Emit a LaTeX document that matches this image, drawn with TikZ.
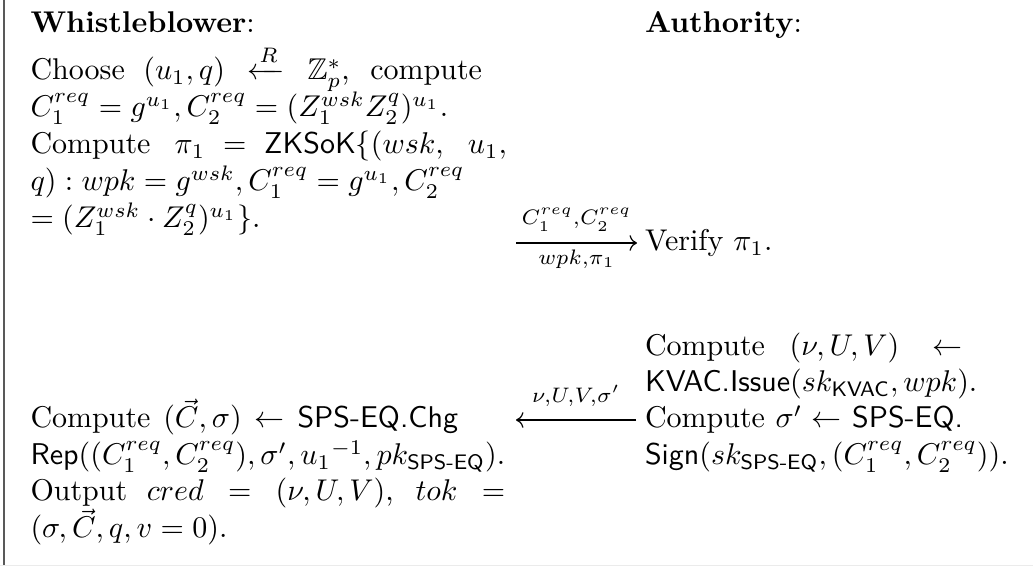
\documentclass[tikz,border=0pt]{standalone}
\usepackage{amsmath,amssymb}
\usetikzlibrary{arrows.meta}
% stretch the interword and math glue of one line to a given width
\newcommand{\spreadline}[2]{\makebox[#1][s]{#2}}
\begin{document}
\begin{tikzpicture}[x=0.3333pt,y=-0.3333pt,
  txt/.style={anchor=base west,inner sep=0pt,outer sep=0pt},
  msg/.style={line width=0.4pt,-{Computer Modern Rightarrow}},
  lab/.style={anchor=base,inner sep=0pt,outer sep=0pt},
  frameleft/.style={draw=black!65,line width=0.45pt},
  framebottom/.style={draw=black!8,line width=0.6pt}]
\useasboundingbox (0,0) rectangle (1033,567);

% table rules
\path[frameleft] (4,0) -- (4,565.5);
\path[framebottom] (0,565.5) -- (1033,565.5);

% headers
\node[txt] (wb) at (30.5,33) {\textbf{Whistleblower}:};
\node[txt] (au) at (645,33) {\textbf{Authority}:};

% whistleblower: commitment request
\node[txt] (l1) at (30.5,80) {\spreadline{150.5pt}{Choose $(u_1,q)\xleftarrow{R}\mathbb{Z}_p^*$, compute}};
\node[txt] (l2) at (30.5,117) {$C_1^{req}=g^{u_1},C_2^{req}=(Z_1^{wsk}Z_2^q)^{u_1}$.};
\node[txt] (l3) at (30.5,154) {\spreadline{158.8pt}{\thickmuskip=5mu plus 2mu
  Compute $\pi_1=\mathsf{ZKSoK}\{(wsk,$ $u_1,$}};
\node[txt] (l4) at (30.5,191) {$q):wpk=g^{wsk},C_1^{req}=g^{u_1},C_2^{req}$};
\node[txt] (l5) at (30.5,228) {$=(Z_1^{wsk}\cdot Z_2^q)^{u_1}\}$.};

% authority: verification
\node[txt] (vf) at (645,251) {Verify $\pi_1$.};

% first message
\coordinate (m1a) at (516,243);
\coordinate (m1b) at (637,243);
\draw[msg] (m1a) -- (m1b)
  node[lab,midway,yshift=6pt] (m1up) {$\scriptstyle C_1^{req},C_2^{req}$}
  node[lab,midway,yshift=-7.3pt] (m1dn) {$\scriptstyle wpk,\pi_1$};

% authority: issuing
\node[txt] (r3) at (645,356) {\spreadline{105.7pt}{Compute $(\nu,U,V)\leftarrow$}};
\node[txt] (r4) at (645,392) {\textsf{KVAC.Issue}$(sk_{\textsf{KVAC}},wpk)$.};
\node[txt] (r5) at (645,428) {\spreadline{106pt}{Compute $\sigma'\leftarrow$ \textsf{SPS-EQ.}}};
\node[txt] (r6) at (645,465) {\textsf{Sign}$(sk_{\textsf{SPS-EQ}},(C_1^{req},C_2^{req}))$.};

% second message
\coordinate (m2a) at (636,420);
\coordinate (m2b) at (516,420);
\draw[msg] (m2a) -- (m2b)
  node[lab,midway,yshift=5.7pt] (m2up) {$\scriptstyle \nu,U,V,\sigma'$};

% whistleblower: credential and token
\node[txt] (l6) at (30.5,428) {\spreadline{142.5pt}{Compute $(\vec{C},\sigma)\leftarrow$ \textsf{SPS-EQ.Chg}}};
\node[txt] (l7) at (30.5,465) {\textsf{Rep}$((C_1^{req},C_2^{req}),\sigma',{u_1}^{-1},pk_{\textsf{SPS-EQ}})$.};
\node[txt] (l8) at (30.5,501) {\spreadline{158.2pt}{Output $cred=(\nu,U,V)$, $tok=$}};
\node[txt] (l9) at (30.5,538) {$(\sigma,\vec{C},q,v=0)$.};
\end{tikzpicture}
\end{document}
